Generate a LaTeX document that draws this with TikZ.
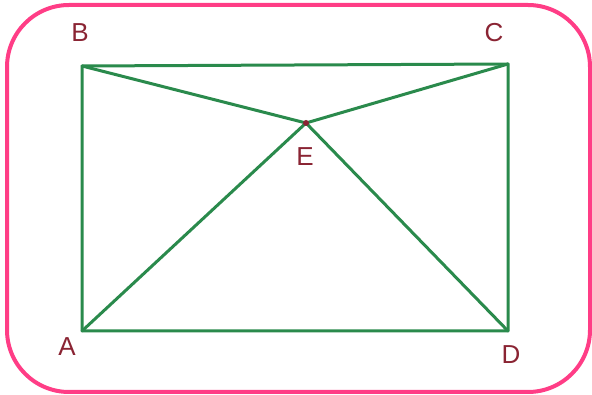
\documentclass[tikz,border=0pt]{standalone}
\usepackage{fontspec}
\setmainfont{Liberation Sans}
\definecolor{edgegreen}{HTML}{2A8A4C}
\definecolor{labelred}{HTML}{8A2433}
\definecolor{framepink}{HTML}{FF3D86}
\begin{document}
\begin{tikzpicture}[x=1pt,y=-1pt,
  edge/.style={draw=edgegreen,line width=3pt,line cap=round,line join=round},
  lbl/.style={text=labelred,font=\fontsize{26}{28}\selectfont,inner sep=0pt}]
\useasboundingbox (0,0) rectangle (592,395);
\draw[framepink,line width=4pt,rounded corners=62pt] (7,5) rectangle (590,392);
\coordinate (B) at (82,66);
\coordinate (C) at (508,64);
\coordinate (A) at (82,331);
\coordinate (D) at (508,331);
\coordinate (E) at (306,123);
\draw[edge] (A) -- (B) -- (C) -- (D) -- cycle;
\draw[edge] (B) -- (E) -- (C);
\draw[edge] (A) -- (E) -- (D);
\fill[labelred] (E) circle (3pt);
\node[lbl] (lB) at (80,33) {B};
\node[lbl] (lC) at (494,33) {C};
\node[lbl] (lE) at (305,157) {E};
\node[lbl] (lA) at (67,347) {A};
\node[lbl] (lD) at (511,355) {D};
\end{tikzpicture}
\end{document}
